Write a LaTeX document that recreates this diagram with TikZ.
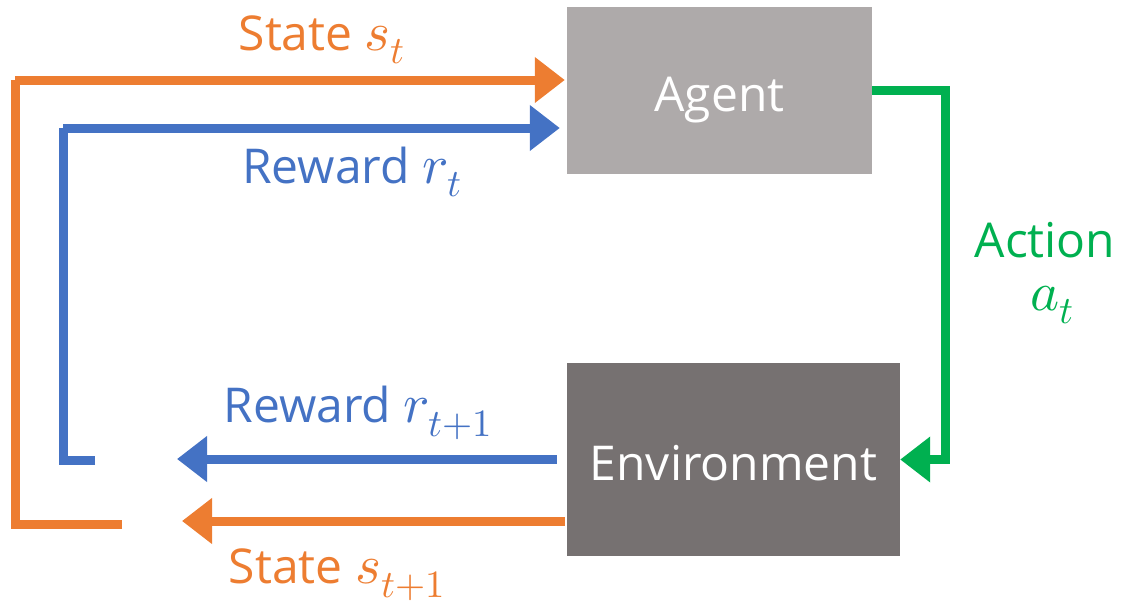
\documentclass[tikz,border=0pt]{standalone}
\usepackage{fontspec}
\usepackage{unicode-math}
\setmainfont{Open Sans}
\setmathfont{Latin Modern Math}[Scale=1.15]
\usetikzlibrary{arrows.meta,calc}
\definecolor{stateor}{HTML}{ED7D31}
\definecolor{rewardbl}{HTML}{4472C4}
\definecolor{actiongr}{HTML}{00B050}
\definecolor{agentgr}{HTML}{AEAAAA}
\definecolor{envgr}{HTML}{767171}
\tikzset{
  line/.style={line width=9pt},
  flow/.style={line width=9pt, -{Triangle[length=30pt,width=44pt]}},
  box/.style={draw=none, text=white, inner sep=0pt, text height=41pt, text depth=0pt,
    font=\fontsize{48}{56}\selectfont},
  lab/.style={font=\fontsize{48}{56}\selectfont, inner sep=0pt},
}

\begin{document}
\begin{tikzpicture}[x=1pt,y=-1pt]
  \useasboundingbox (0,0) rectangle (1127,606);
  % boxes
  \node[box, fill=agentgr, minimum width=305pt, minimum height=167pt] (agent) at (719.5,90.5) {Agent};
  \node[box, fill=envgr, minimum width=333pt, minimum height=193pt] (env) at (733.5,459.5) {Environment};
  % free ends of the loops
  \coordinate (sbot) at (122,524);
  \coordinate (scorner) at (15,80);
  \coordinate (rbot) at (95,460);
  \coordinate (rcorner) at (63,128);
  \coordinate (snext) at (182,521);
  \coordinate (rnext) at (177,459);
  \coordinate (gcorner) at (945,90);
  % state loop
  \draw[line, stateor] (sbot) -| (scorner);
  \draw[flow, stateor, shorten >=2pt] (scorner) -- (scorner -| agent.west);
  \draw[flow, stateor, shorten <=2pt] (env.west |- snext) -- (snext);
  % reward loop
  \draw[line, rewardbl] (rbot) -| (rcorner);
  \draw[flow, rewardbl, shorten >=7pt] (rcorner) -- (rcorner -| agent.west);
  \draw[flow, rewardbl, shorten <=10pt] (env.west |- rnext) -- (rnext);
  % action
  \draw[flow, actiongr] (agent.east |- gcorner) -- (gcorner) |- (env.east);
  % labels
  \node[lab, text=stateor] (lst) at (322,40) {State $s_t$};
  \node[lab, text=rewardbl] (lrt) at (352,172) {Reward $r_t$};
  \node[lab, text=rewardbl] (lrn) at (358,413) {Reward $r_{t+1}$};
  \node[lab, text=stateor] (lsn) at (337,575) {State $s_{t+1}$};
  \node[lab, text=actiongr] (lact) at (1045,240) {Action};
  \node[lab, text=actiongr] (lat) at (1052,305) {$a_t$};
\end{tikzpicture}
\end{document}
